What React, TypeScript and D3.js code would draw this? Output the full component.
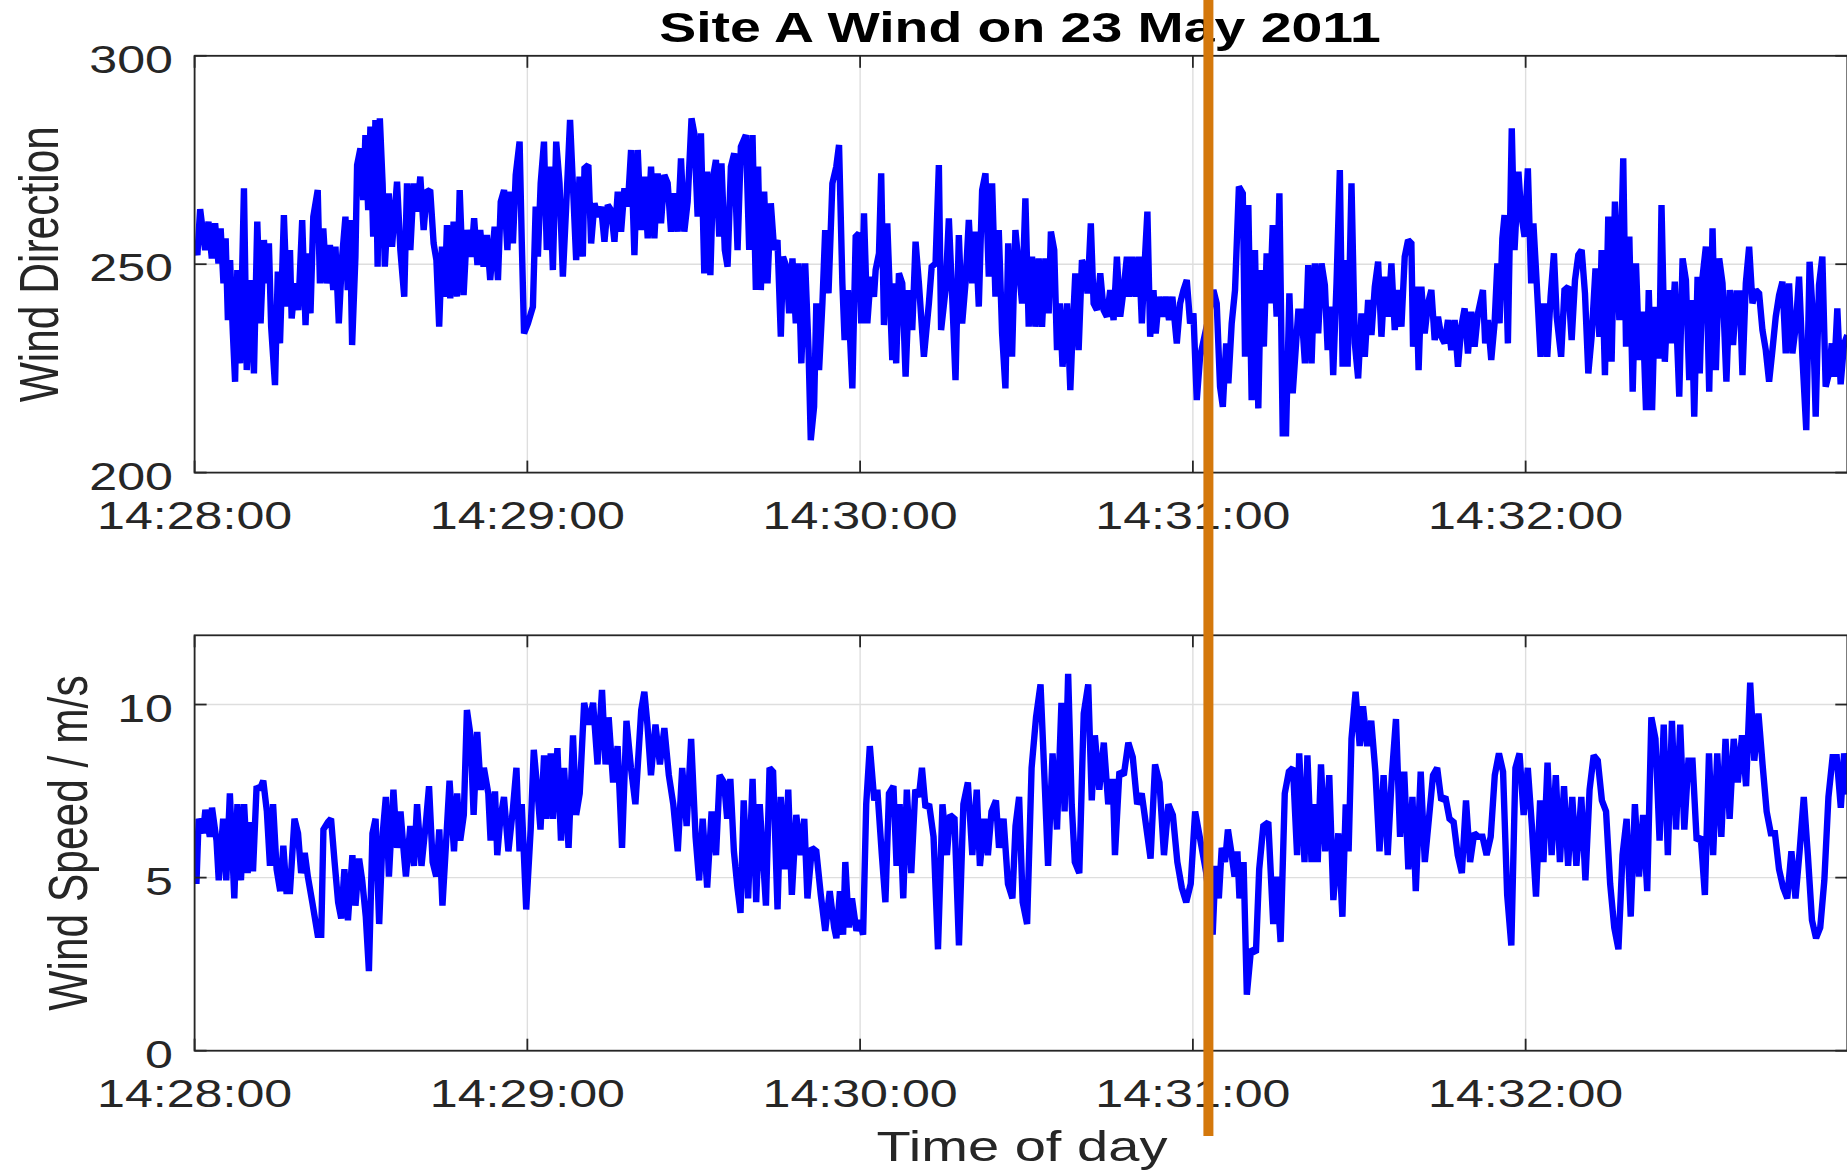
import React from 'react';
import * as d3 from 'd3';

// ---------- data (seconds after 14:28:00) ----------
const xTickSeconds = [0, 60, 120, 180, 240];
const xTickLabels = ['14:28:00', '14:29:00', '14:30:00', '14:31:00', '14:32:00'];
const dirTicks = [200, 250, 300];
const speedTicks = [0, 5, 10];
const titleText = 'Site A Wind on 23 May 2011';
const dirLabel = 'Wind Direction';
const speedLabel = 'Wind Speed / m/s';
const xLabel = 'Time of day';
const markerSeconds = 182.8;

const dirT = [
  0, 0.5, 1.0, 1.9, 2.5, 3.1, 3.7, 4.3, 4.7, 5.2, 5.6, 6.0, 6.4, 6.9, 7.3, 7.7, 8.2, 8.9, 9.4, 10.0,
  10.7, 11.3, 11.9, 12.5, 13.0, 13.4, 13.8, 14.5, 15.0, 15.4, 16.1, 16.7, 17.2, 17.5, 18.1, 18.7, 19.4, 20.0, 20.5, 20.9,
  21.4, 22.2, 22.6, 23.2, 23.8, 24.4, 25.0, 25.4, 26.0, 26.6, 27.2, 27.6, 28.0, 28.4, 29.0, 29.3, 29.9, 30.4, 30.8, 31.3,
  31.7, 32.2, 32.6, 33.0, 33.4, 33.9, 34.3, 35.0, 35.6, 36.5, 37.1, 37.8, 38.3, 38.9, 39.5, 40.1, 40.7, 41.3, 41.9, 42.5,
  43.1, 43.6, 44.1, 44.6, 45.1, 45.5, 46.1, 46.7, 47.3, 47.8, 48.5, 49.1,
  49.9, 50.4, 51.0, 51.5, 52.1, 52.7, 53.3, 54.1, 54.7, 55.2, 55.8, 56.4, 56.8, 57.4, 57.9, 58.6, 59.0, 59.4, 60.1, 61.0,
  61.5, 61.9, 62.4, 63.0, 63.5, 64.0, 64.6, 65.2, 65.8, 66.4, 67.0, 67.7, 68.2, 68.8, 69.4, 70.0, 70.3, 71.0, 71.5, 72.1,
  72.7, 73.3, 73.9, 74.5, 75.1, 75.7, 76.3, 76.9, 77.5, 78.1, 78.7, 79.3, 79.9, 80.5, 81.1, 81.7, 82.3, 82.9, 83.5, 84.1,
  84.7, 85.3, 85.9, 86.5, 87.1, 87.7, 88.3, 88.9, 89.6, 90.1, 90.7, 91.3, 91.9, 92.4, 93.0, 93.5, 94.0, 94.6, 95.0, 95.6,
  96.1, 96.7, 97.3, 97.9, 98.5,
  99.4, 100.0, 100.6, 101.2, 101.6, 102.1, 102.7, 103.3, 103.9, 104.5, 105.1, 105.7, 106.1, 106.7, 107.2, 107.8, 108.4, 108.9, 109.4, 110.1,
  110.7, 111.1, 111.7, 112.1, 112.6, 113.2, 113.7, 114.3, 115.0, 115.7, 116.2, 116.8, 117.2, 117.8, 118.6, 119.2, 119.8, 120.2, 120.7, 121.3,
  121.9, 122.5, 122.8, 123.4, 123.8, 124.3, 124.9, 125.8, 126.1, 126.5, 127.0, 127.6, 128.2, 128.8, 129.4, 130.0, 130.6, 131.5, 132.4, 132.9,
  133.6, 134.2, 134.6, 135.4, 136.0, 136.6, 137.2, 137.8, 138.4, 139.0, 139.6, 140.2, 140.8, 141.4, 142.0, 142.6, 143.2, 143.8, 144.4, 145.0,
  145.6, 146.2, 146.7, 147.4, 148.0,
  149.2, 149.8, 150.4, 151.0, 151.6, 152.2, 152.8, 153.4, 154.0, 154.4, 155.0, 155.5, 156.0, 156.5, 157.3, 157.9, 158.3, 158.8, 159.4, 160.0,
  160.6, 161.0, 161.6, 162.1, 162.7, 163.3, 163.9, 164.5, 165.1, 165.7, 166.3, 166.9, 167.5, 168.1, 168.5, 169.1, 169.7, 170.3, 170.8, 171.4,
  171.8, 172.3, 172.9, 173.3, 173.9, 174.5, 175.1, 175.7, 176.3, 177.1, 177.7, 178.3, 178.9, 179.5, 180.1, 180.7, 181.3, 182.6, 183.7, 184.3,
  184.9, 185.4, 186.0, 186.4, 187.0, 187.6, 188.3, 189.0, 189.4, 190.0, 190.6, 191.2, 191.8, 192.3, 192.8, 193.3, 193.9, 194.4, 195.1, 195.6,
  196.2, 196.8, 197.4, 198.0,
  199.0, 199.6, 200.2, 200.8, 201.4, 202.0, 202.6, 203.2, 203.8, 204.3, 204.9, 205.3, 205.9, 206.5, 207.0, 207.4, 207.9, 208.6, 209.2, 209.8,
  210.4, 211.0, 211.6, 212.2, 212.8, 213.4, 214.0, 214.6, 215.2, 215.8, 216.4, 217.0, 217.6, 218.2, 218.8, 219.4, 219.7, 220.3, 220.7, 221.2,
  221.8, 222.4, 223.0, 223.6, 224.2, 224.8, 225.4, 226.0, 226.6, 227.2, 227.8, 228.4, 229.0, 229.6, 230.2, 230.8, 231.4, 232.3, 232.7, 233.2,
  233.8, 234.4, 234.9, 235.3, 235.8, 236.2, 236.8, 237.5, 238.0, 238.7, 239.2, 239.8, 240.4, 241.0, 241.4, 242.0, 242.7, 243.3, 243.9, 244.5,
  245.1, 245.6, 246.4, 247.0,
  247.7, 248.3, 248.9, 249.5, 250.1, 250.7, 251.3, 251.9, 252.6, 253.3, 253.7, 254.3, 254.9, 255.5, 256.1, 256.9, 257.6, 258.1, 258.7, 259.3,
  259.9, 260.5, 261.1, 261.7, 262.2, 262.8, 263.3, 264.1, 264.5, 265.1, 265.7, 266.3, 266.9, 267.7, 268.3, 268.9, 269.5, 269.9, 270.4, 271.0,
  271.4, 271.9, 272.5, 273.1, 273.7, 274.3, 274.9, 275.5, 276.2, 276.8, 277.4, 278.0, 278.6, 279.1, 279.7, 280.3, 280.9, 281.5, 282.1, 282.7,
  283.3, 283.9, 284.5, 285.1, 285.7, 286.3, 286.9, 287.5, 288.1, 288.7, 289.3, 289.9, 290.6, 291.2, 291.8, 292.3, 292.9, 293.5, 294.1, 294.7,
  295.2, 295.6, 296.2, 296.8, 297.4, 298.0,
];
const dirV = [
  255.0, 252.2, 263.2, 253.4, 260.2, 251.4, 259.8, 250.2, 258.6, 245.4, 256.2, 236.6, 251.0, 233.4, 221.8, 248.6, 226.2, 268.2, 224.6, 246.2,
  223.8, 260.2, 235.8, 255.8, 245.4, 255.0, 235.0, 221.0, 248.2, 231.0, 261.8, 239.8, 253.4, 237.0, 245.4, 239.0, 260.6, 235.4, 252.6, 238.2,
  261.4, 267.8, 245.4, 258.6, 245.4, 254.6, 243.8, 254.2, 235.8, 251.8, 261.4, 243.8, 260.6, 230.6, 251.8, 273.8, 277.8, 265.4, 281.0, 263.0,
  283.0, 256.6, 284.6, 249.4, 285.0, 269.4, 249.4, 267.0, 254.2, 269.8, 253.4, 242.2, 269.4, 253.4, 269.4, 262.6, 271.0, 258.2, 267.8, 267.4,
  255.0, 251.0, 235.0, 254.2, 242.2, 259.4, 241.8, 260.2, 242.2, 267.8, 242.6, 258.2,
  251.8, 261.0, 249.8, 258.2, 249.4, 257.0, 246.2, 259.0, 246.2, 265.0, 267.8, 253.4, 267.4, 255.0, 271.4, 279.4, 255.0, 233.4, 235.8, 239.8,
  263.8, 251.8, 269.4, 279.4, 253.4, 273.4, 248.6, 279.4, 269.4, 247.0, 263.8, 284.6, 269.4, 251.0, 271.0, 251.8, 273.0, 273.8, 255.0, 264.6,
  261.4, 263.8, 255.4, 264.2, 263.0, 255.4, 267.4, 257.8, 268.2, 263.8, 277.4, 252.2, 277.4, 258.2, 271.0, 256.2, 273.4, 256.2, 271.8, 259.8,
  271.4, 269.4, 257.8, 267.0, 257.8, 275.4, 257.8, 265.0, 285.0, 281.4, 261.4, 281.4, 247.8, 272.2, 247.4, 271.0, 275.0, 256.6, 274.2, 253.4,
  249.4, 273.4, 276.6, 253.4, 278.2,
  281.0, 253.4, 281.0, 243.8, 273.4, 243.8, 267.4, 245.4, 264.6, 253.4, 255.8, 232.6, 251.8, 249.4, 238.2, 251.4, 235.8, 250.2, 226.2, 250.2,
  229.4, 207.8, 215.8, 240.6, 224.6, 240.6, 258.2, 243.0, 269.4, 273.4, 278.6, 245.4, 231.8, 243.8, 220.2, 256.6, 257.4, 235.8, 262.2, 235.8,
  247.0, 242.2, 248.6, 252.6, 271.8, 235.4, 259.8, 227.0, 245.4, 226.2, 247.8, 245.4, 223.0, 243.8, 234.2, 255.4, 245.4, 227.8, 240.6, 249.4,
  250.2, 273.8, 234.2, 243.8, 261.0, 242.2, 222.2, 257.0, 235.8, 245.4, 260.6, 245.4, 257.8, 239.8, 267.8, 271.8, 247.0, 269.4, 242.2, 258.2,
  233.4, 220.2, 255.0, 227.8, 258.2,
  240.6, 265.8, 235.0, 251.8, 235.0, 251.4, 235.0, 251.4, 238.2, 257.8, 253.4, 229.4, 240.6, 225.4, 240.6, 219.8, 233.4, 247.8, 229.4, 251.0,
  248.6, 243.0, 259.8, 240.6, 239.0, 247.8, 239.0, 237.4, 243.8, 236.6, 251.8, 237.4, 243.8, 251.8, 242.2, 251.8, 242.2, 251.8, 235.8, 252.6,
  262.6, 232.6, 243.8, 233.4, 242.2, 237.4, 242.2, 236.6, 242.2, 231.0, 240.6, 243.8, 246.2, 235.8, 238.2, 217.4, 227.8, 235.8, 243.8, 240.6,
  220.6, 215.8, 231.0, 221.4, 235.8, 243.8, 268.6, 267.0, 227.8, 264.2, 217.4, 253.4, 215.4, 248.6, 230.2, 252.6, 240.6, 259.4, 237.4, 267.0,
  209.4, 209.4, 243.0, 219.0,
  238.6, 238.6, 226.2, 249.8, 226.2, 250.2, 233.4, 250.2, 245.0, 229.4, 239.8, 223.4, 245.4, 272.6, 225.4, 251.0, 225.4, 269.4, 231.0, 222.6,
  238.2, 227.8, 241.4, 233.0, 244.6, 250.6, 232.6, 247.0, 237.4, 250.2, 234.2, 243.8, 235.0, 251.8, 255.8, 255.0, 230.2, 244.6, 224.6, 244.6,
  233.4, 240.6, 243.8, 231.8, 237.4, 232.6, 231.0, 236.6, 229.4, 236.6, 225.4, 235.0, 239.4, 228.6, 238.6, 230.2, 238.2, 243.8, 231.0, 236.6,
  227.0, 235.8, 250.2, 235.8, 256.2, 261.8, 231.0, 282.6, 253.4, 272.2, 262.2, 256.6, 273.0, 245.4, 259.8, 245.4, 227.8, 240.6, 227.8, 242.2,
  252.6, 237.4, 227.8, 243.8,
  244.6, 231.8, 246.2, 252.2, 253.4, 243.0, 223.8, 232.6, 249.0, 232.6, 253.4, 223.4, 261.4, 226.6, 265.0, 236.6, 275.4, 230.2, 256.6, 219.4,
  250.2, 227.0, 238.6, 215.0, 243.8, 215.0, 239.8, 227.4, 264.2, 226.6, 243.8, 231.0, 245.8, 218.2, 251.4, 246.2, 222.2, 241.4, 213.4, 247.0,
  223.8, 247.0, 254.2, 219.4, 258.6, 224.6, 251.4, 245.4, 221.8, 243.8, 230.6, 243.0, 243.0, 223.4, 245.4, 254.2, 240.6, 243.8, 243.0, 234.2,
  229.4, 221.8, 229.4, 237.4, 242.6, 245.8, 228.6, 245.4, 228.6, 235.0, 247.0, 227.8, 210.2, 250.6, 237.4, 213.4, 245.0, 251.8, 220.6, 223.8,
  231.0, 223.0, 239.4, 221.2, 230.8, 233.0,
];

const spdT = [
  0.0, 0.33, 0.73, 1.53, 1.94, 2.74, 3.14, 3.95, 4.35, 5.15, 5.71, 6.36, 7.16, 7.72, 8.36, 8.93, 9.57, 9.97, 10.53, 11.18,
  11.74, 12.38, 13.03, 13.59, 14.15, 14.79, 15.44, 16.0, 16.56, 17.2, 18.01, 18.65, 19.21, 19.86, 20.42, 21.22, 22.19, 22.83, 23.23, 24.03,
  24.6, 25.24, 25.88, 26.44, 27.01, 27.65, 28.45, 29.01, 29.66, 30.22, 30.87, 31.43, 32.07, 32.63, 33.28, 33.92, 34.48, 35.04, 35.85, 36.49,
  37.13, 37.7, 38.1, 38.9, 39.55, 40.11, 40.91, 41.71, 42.27, 42.92, 43.56, 44.12, 44.69, 45.33, 45.97, 46.77, 47.34, 47.9, 48.54, 49.1,
  49.75, 50.31, 50.96, 51.6, 52.16, 52.96, 53.37, 54.17, 54.57, 55.13, 55.78, 56.58, 57.38, 58.03, 58.59, 58.99, 59.79, 60.6, 61.16, 61.8,
  62.37, 63.01, 63.41, 64.21, 64.62, 65.42, 66.06, 66.62, 67.43, 68.23, 68.8, 69.44, 70.24, 71.04, 71.85, 72.65, 73.46, 74.1, 74.66, 75.46,
  76.27, 77.07, 77.87, 78.68, 79.48, 80.53, 81.09, 81.65, 82.29, 83.1, 83.9, 84.7, 85.51, 86.31, 87.12, 87.92, 88.72, 89.53, 90.33, 90.97,
  91.61, 92.42, 93.22, 94.02, 94.67, 95.47, 96.03, 96.6, 97.24, 97.88, 98.44, 99.01, 99.81, 100.61, 101.26, 101.9, 102.46, 103.02, 103.67, 104.31,
  105.11, 105.68, 106.48, 107.04, 107.69, 108.49, 109.29, 109.93, 110.5, 111.3, 112.1, 112.91, 113.71, 114.52, 115.32, 115.72, 116.36, 116.93, 117.33, 117.97,
  118.53, 119.34, 119.9, 120.54, 121.1, 121.75, 122.55, 123.11, 123.92, 124.56, 125.2, 126.01, 126.57, 127.13, 127.78, 128.42, 129.22, 129.95, 130.59, 131.15,
  131.79, 132.44, 133.24, 134.04, 134.85, 135.65, 136.21, 137.02, 137.82, 138.62, 139.43, 140.23, 141.03, 141.6, 142.4, 143.04, 143.69, 144.49, 145.05, 145.86,
  146.66, 147.46, 148.02, 148.67, 149.31, 150.11, 150.92, 151.72, 152.53, 153.33, 153.89, 154.7, 155.5, 156.3, 156.87, 157.51, 158.15, 158.71, 159.52, 160.32,
  161.13, 161.77, 162.33, 163.13, 163.94, 164.74, 165.55, 165.95, 166.75, 167.55, 168.36, 169.16, 169.96, 170.77, 171.57, 172.37, 173.18, 173.98, 174.79, 175.59,
  176.39, 177.2, 178.0, 178.8, 179.61, 180.41, 182.42,
  183.57, 184.09, 184.68, 185.2, 185.8, 186.32, 186.91, 187.51, 188.03, 188.4, 189.14, 189.73, 190.48, 191.37, 191.96, 192.7, 193.6, 194.49, 195.08, 195.82,
  196.57, 197.31, 198.05, 198.79, 199.17, 200.13, 200.65, 201.39, 201.99, 202.51, 203.1, 203.85, 204.59, 205.33, 206.22, 206.96, 207.56, 208.08, 208.6, 209.34,
  210.08, 210.68, 211.42, 212.16, 212.91, 213.65, 214.39, 215.13, 215.88, 216.62, 217.36, 218.11, 218.85, 219.59, 220.19, 221.08, 221.82, 222.56, 223.3, 224.05,
  224.79, 225.53, 226.27, 227.02, 227.76, 228.5, 229.25, 229.99, 230.73, 231.47, 232.22, 232.96, 233.7, 234.44, 235.19, 235.93, 236.67, 237.42, 238.16, 238.9,
  239.64, 240.39, 241.13, 241.87, 242.61, 243.21, 243.95, 244.69, 245.44, 246.18, 246.92, 247.66, 248.41, 249.15, 250.04, 250.78, 251.53, 252.27, 253.01, 253.75,
  254.5, 255.24, 255.98, 256.73, 257.47, 258.21, 258.95, 259.7, 260.44, 261.18, 261.92, 262.67, 263.41, 264.15, 264.9, 265.64, 266.38, 267.12, 267.87, 268.61,
  269.35, 270.09, 270.84, 271.58, 272.32, 273.06, 273.81, 274.55, 275.29, 276.04, 276.78, 277.52, 278.26, 279.01, 279.75, 280.49, 281.23, 281.98, 282.72, 283.46,
  284.21, 284.95, 285.69, 286.43, 287.18, 287.92, 288.66, 289.4, 290.15, 290.89, 291.63, 292.37, 293.12, 293.86, 294.6, 295.35, 296.09, 296.83, 297.42, 298.0,
];
const spdV = [
  5.86, 4.82, 6.70, 6.28, 6.96, 6.18, 7.02, 6.07, 4.92, 6.70, 4.92, 7.43, 4.40, 7.12, 4.92, 7.12, 5.13, 6.60, 5.18, 7.64,
  7.54, 7.80, 6.91, 5.34, 7.12, 5.24, 4.61, 5.92, 4.61, 4.61, 6.70, 6.28, 5.13, 5.71, 5.03, 4.29, 3.35, 3.35, 6.39, 6.60,
  6.70, 5.45, 4.29, 3.82, 5.24, 3.77, 5.65, 4.19, 5.55, 4.92, 3.87, 2.30, 6.28, 6.70, 3.66, 6.28, 7.33, 5.03, 7.54, 5.86,
  6.91, 5.76, 5.03, 6.49, 5.34, 7.12, 5.34, 6.60, 7.64, 5.45, 5.03, 6.39, 4.19, 5.97, 7.80, 5.76, 7.43, 6.07, 6.81, 9.84,
  9.11, 6.81, 9.21, 7.54, 8.17, 7.43, 6.07, 7.49, 5.65, 6.70, 7.33, 5.76, 6.96, 8.17, 5.76, 7.12, 4.08, 6.39, 8.69, 7.54,
  6.39, 8.53, 6.70, 8.59, 6.70, 8.74, 6.07, 8.17, 5.86, 9.11, 6.81, 7.43, 10.05, 9.42, 10.05, 8.27, 10.42, 8.27, 9.63, 7.75,
  8.80, 5.86, 9.53, 8.17, 7.12, 9.84, 10.37, 9.42, 7.96, 9.42, 8.27, 9.32, 7.96, 7.12, 5.76, 8.17, 6.49, 9.01, 6.18, 4.92,
  6.70, 4.71, 6.91, 5.65, 7.96, 7.75, 6.70, 7.85, 5.76, 4.71, 3.98, 7.23, 4.40, 7.85, 4.29, 7.12, 5.65, 4.19, 8.17, 8.06,
  4.08, 7.33, 5.24, 7.54, 4.50, 6.81, 5.65, 6.70, 4.40, 5.86, 5.76, 4.50, 3.46, 4.61, 3.56, 3.25, 4.61, 3.35, 5.45, 3.56,
  4.40, 3.46, 3.77, 3.35, 7.12, 8.80, 7.23, 7.54, 5.65, 4.29, 7.43, 7.64, 5.34, 7.12, 4.40, 7.54, 5.13, 7.54, 7.33, 8.17,
  7.02, 7.12, 6.18, 2.93, 7.12, 5.65, 6.81, 6.70, 3.04, 7.12, 7.75, 5.65, 7.54, 5.34, 6.70, 5.65, 6.91, 7.23, 5.86, 6.70,
  4.82, 4.40, 6.49, 7.33, 4.29, 3.66, 8.17, 9.63, 10.58, 7.54, 5.34, 8.59, 6.39, 10.05, 6.91, 10.89, 7.12, 5.45, 5.13, 9.74,
  10.58, 7.23, 9.11, 7.54, 8.90, 7.12, 7.85, 5.65, 8.06, 7.96, 8.90, 8.48, 7.12, 7.43, 6.49, 5.55, 8.27, 7.75, 5.65, 7.12,
  6.81, 5.45, 4.71, 4.29, 4.82, 6.91, 5.13,
  3.35, 5.34, 4.40, 5.86, 5.45, 6.39, 5.76, 5.03, 5.76, 4.40, 5.45, 1.62, 2.93, 2.83, 5.24, 6.49, 6.60, 3.66, 5.03, 3.14,
  7.43, 8.06, 8.17, 5.65, 8.59, 5.45, 8.53, 5.45, 7.12, 5.45, 8.27, 5.76, 7.96, 4.35, 6.28, 3.87, 7.12, 5.76, 9.01, 10.37,
  8.80, 9.95, 8.80, 9.53, 8.06, 5.76, 7.96, 5.65, 7.96, 9.58, 6.18, 8.06, 5.24, 7.33, 4.61, 8.06, 5.45, 6.70, 7.96, 8.17,
  7.23, 7.33, 6.70, 6.60, 5.65, 5.13, 7.23, 5.45, 6.28, 6.18, 6.18, 5.65, 6.18, 7.96, 8.59, 8.06, 4.50, 3.04, 8.17, 8.59,
  6.81, 8.17, 6.49, 4.45, 7.23, 5.45, 8.32, 5.65, 7.96, 5.45, 7.64, 5.34, 7.33, 5.34, 7.33, 4.92, 7.54, 8.53, 8.38, 7.23,
  6.91, 4.82, 3.56, 2.93, 5.65, 6.70, 3.87, 7.12, 5.03, 6.81, 4.61, 9.63, 9.01, 6.07, 9.42, 5.65, 9.53, 6.39, 9.42, 6.39,
  8.38, 8.38, 6.07, 6.18, 4.50, 8.59, 5.65, 8.59, 6.18, 9.01, 6.70, 9.01, 7.75, 9.11, 7.64, 10.63, 8.38, 9.74, 8.27, 6.91,
  6.28, 6.28, 5.24, 4.71, 4.40, 5.76, 4.40, 5.76, 7.33, 5.65, 3.77, 3.25, 3.56, 4.92, 7.33, 8.48, 8.48, 7.02, 8.59, 7.4,
];

// ---------- layout ----------
const W = 1847;
const H = 1170;
const PLOT_L = 194.6;
const PLOT_R = 1847.3;
const X_MAX = 298;
const TOP_PANEL = { top: 55.8, bottom: 472.6, min: 200, max: 300 };
const BOT_PANEL = { top: 635.3, bottom: 1050.7, min: 0, max: 12 };
const SX = 1.32; // horizontal stretch of the original figure's text
const FONT = '"Liberation Sans", Arial, Helvetica, sans-serif';
const AXIS_COLOR = '#262626';
const GRID_COLOR = '#dedede';
const LINE_COLOR = '#0000ff';
const MARKER_COLOR = '#d4780c';

const xScale = d3.scaleLinear().domain([0, X_MAX]).range([PLOT_L, PLOT_R]);

function STextEl(props: {
  x: number; y: number; text: string; size: number; anchor?: string;
  weight?: string | number; fill?: string; rotate?: boolean; sx?: number;
}) {
  const sx = props.sx ?? SX;
  const tr = `translate(${props.x},${props.y}) scale(${sx},1)` + (props.rotate ? ' rotate(-90)' : '');
  return (
    <text
      transform={tr}
      textAnchor={props.anchor ?? 'middle'}
      fontFamily={FONT}
      fontSize={props.size}
      fontWeight={props.weight ?? 'normal'}
      fill={props.fill ?? AXIS_COLOR}
    >
      {props.text}
    </text>
  );
}

function Panel(props: {
  id: string;
  cfg: { top: number; bottom: number; min: number; max: number };
  ticks: number[];
  times: number[];
  values: number[];
  label: string;
  labelX: number;
}) {
  const { cfg, ticks, times, values } = props;
  const yScale = d3.scaleLinear().domain([cfg.min, cfg.max]).range([cfg.bottom, cfg.top]);
  const pts: [number, number][] = times.map((t, i) => [t, values[i]]);
  const line = d3
    .line<[number, number]>()
    .x((d) => xScale(d[0]))
    .y((d) => yScale(d[1]));
  const tickLen = 12;
  const clipId = `clip-${props.id}`;
  const midY = (cfg.top + cfg.bottom) / 2;
  return (
    <g>
      <defs>
        <clipPath id={clipId}>
          <rect x={PLOT_L} y={cfg.top} width={PLOT_R - PLOT_L} height={cfg.bottom - cfg.top} />
        </clipPath>
      </defs>
      <rect x={PLOT_L} y={cfg.top} width={PLOT_R - PLOT_L} height={cfg.bottom - cfg.top} fill="#ffffff" />
      {/* grid */}
      {xTickSeconds.map((s) => (
        <line key={`gx${s}`} x1={xScale(s)} x2={xScale(s)} y1={cfg.top} y2={cfg.bottom} stroke={GRID_COLOR} strokeWidth={1.4} />
      ))}
      {ticks.map((v) => (
        <line key={`gy${v}`} x1={PLOT_L} x2={PLOT_R} y1={yScale(v)} y2={yScale(v)} stroke={GRID_COLOR} strokeWidth={1.4} />
      ))}
      {/* data */}
      <path
        d={line(pts) ?? ''}
        fill="none"
        stroke={LINE_COLOR}
        strokeWidth={6.4}
        strokeLinejoin="miter"
        strokeMiterlimit={1.6}
        clipPath={`url(#${clipId})`}
      />
      {/* box */}
      <rect x={PLOT_L} y={cfg.top} width={PLOT_R - PLOT_L} height={cfg.bottom - cfg.top} fill="none" stroke={AXIS_COLOR} strokeWidth={1.8} />
      {/* ticks */}
      {xTickSeconds.map((s) => (
        <g key={`tx${s}`}>
          <line x1={xScale(s)} x2={xScale(s)} y1={cfg.bottom} y2={cfg.bottom - tickLen} stroke={AXIS_COLOR} strokeWidth={1.8} />
          <line x1={xScale(s)} x2={xScale(s)} y1={cfg.top} y2={cfg.top + tickLen} stroke={AXIS_COLOR} strokeWidth={1.8} />
        </g>
      ))}
      {ticks.map((v) => (
        <g key={`ty${v}`}>
          <line x1={PLOT_L} x2={PLOT_L + tickLen} y1={yScale(v)} y2={yScale(v)} stroke={AXIS_COLOR} strokeWidth={1.8} />
          <line x1={PLOT_R} x2={PLOT_R - tickLen} y1={yScale(v)} y2={yScale(v)} stroke={AXIS_COLOR} strokeWidth={1.8} />
        </g>
      ))}
      {/* tick labels */}
      {xTickSeconds.map((s, i) => (
        <STextEl key={`lx${s}`} x={xScale(s)} y={cfg.bottom + 56.5} text={xTickLabels[i]} size={38} anchor="middle" />
      ))}
      {ticks.map((v) => (
        <STextEl key={`ly${v}`} x={173} y={yScale(v) + 17} text={String(v)} size={38} anchor="end" />
      ))}
      {/* y label */}
      <STextEl x={props.labelX} y={midY} text={props.label} size={42.5} anchor="middle" rotate />
    </g>
  );
}

export default function App() {
  const mx = xScale(markerSeconds);
  return (
    <svg
      width={W}
      height={H}
      viewBox={`0 0 ${W} ${H}`}
      style={{ position: 'absolute', left: 0, top: 0, display: 'block', background: '#ffffff' }}
    >
      <rect x={0} y={0} width={W} height={H} fill="#ffffff" />
      <Panel id="dir" cfg={TOP_PANEL} ticks={dirTicks} times={dirT} values={dirV} label={dirLabel} labelX={58} />
      <Panel id="spd" cfg={BOT_PANEL} ticks={speedTicks} times={spdT} values={spdV} label={speedLabel} labelX={87} />
      <STextEl x={1020} y={42.3} text={titleText} size={42.6} anchor="middle" weight="bold" fill="#000000" sx={1.3} />
      <STextEl x={1022} y={1161} text={xLabel} size={42.5} anchor="middle" />
      <line x1={mx} x2={mx} y1={0} y2={1136} stroke={MARKER_COLOR} strokeWidth={10} />
    </svg>
  );
}
